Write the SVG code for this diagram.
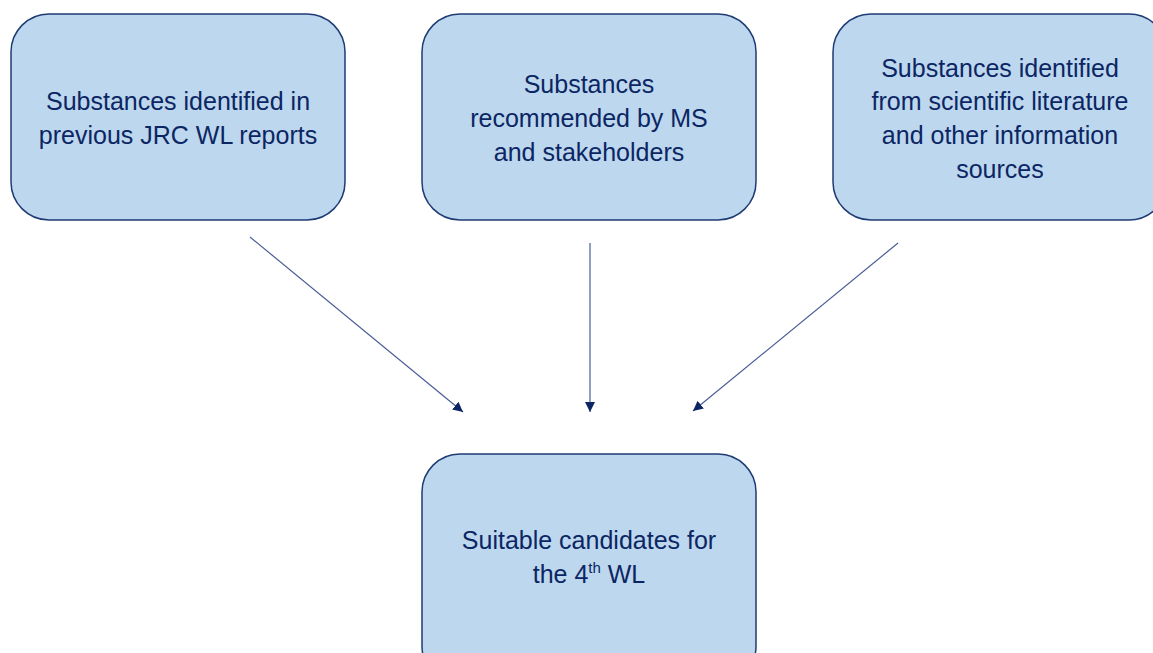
<svg xmlns="http://www.w3.org/2000/svg" width="1153" height="653" viewBox="0 0 1153 653">
<style>
.box{fill:#BDD7EE;stroke:#1F3B73;stroke-width:1.5}
.t{font-family:"Liberation Sans",Arial,sans-serif;font-size:25px;fill:#0B2663;text-anchor:middle}
.c{stroke:#4A5E96;stroke-width:1.2;fill:none;marker-end:url(#ah)}
</style>
<defs>
<marker id="ah" viewBox="0 0 10 10" refX="10" refY="5" markerWidth="10" markerHeight="10" markerUnits="userSpaceOnUse" orient="auto">
<path d="M0,0 L10,5 L0,10 Z" fill="#0B2663"/>
</marker>
</defs>
<rect width="1153" height="653" fill="#FFFFFF"/>
<g id="n1">
<rect class="box" x="11" y="14" width="334" height="206" rx="38" ry="38"/>
<text class="t" x="178" y="110">Substances identified in</text>
<text class="t" x="178" y="144">previous JRC WL reports</text>
</g>
<g id="n2">
<rect class="box" x="422" y="14" width="334" height="206" rx="38" ry="38"/>
<text class="t" x="589" y="93">Substances</text>
<text class="t" x="589" y="127">recommended by MS</text>
<text class="t" x="589" y="161">and stakeholders</text>
</g>
<g id="n3">
<rect class="box" x="833" y="14" width="334" height="206" rx="38" ry="38"/>
<text class="t" x="1000" y="77">Substances identified</text>
<text class="t" x="1000" y="110">from scientific literature</text>
<text class="t" x="1000" y="144">and other information</text>
<text class="t" x="1000" y="178">sources</text>
</g>
<g id="n4">
<rect class="box" x="422" y="454" width="334" height="230" rx="38" ry="38"/>
<text class="t" x="589" y="549">Suitable candidates for</text>
<text class="t" x="589" y="583">the 4<tspan font-size="15" dy="-10">th</tspan><tspan dy="10"> WL</tspan></text>
</g>
<g id="connectors">
<line class="c" x1="250" y1="237" x2="463" y2="412"/>
<line class="c" x1="590" y1="243" x2="590" y2="412"/>
<line class="c" x1="898" y1="243" x2="693" y2="411"/>
</g>
</svg>
